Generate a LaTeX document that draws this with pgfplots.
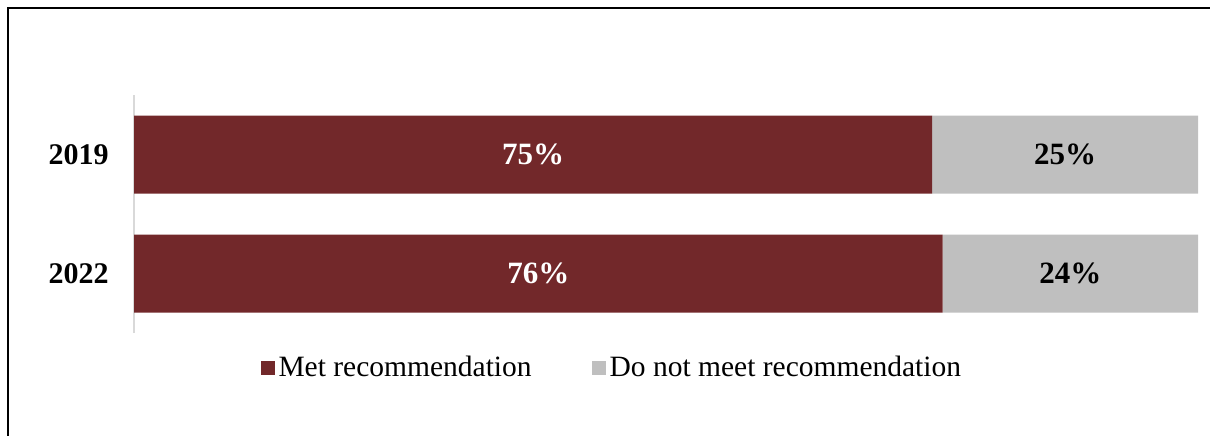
\documentclass[border=0pt]{standalone}
\usepackage{pgfplots}
\pgfplotsset{compat=1.18}
\usepackage{pgfplotstable}
\usepackage{fontspec}
\setmainfont{Liberation Serif}
\definecolor{metc}{RGB}{114,40,42}
\definecolor{notc}{RGB}{191,191,191}
\definecolor{axc}{RGB}{217,217,217}

\pgfplotstableread{
pos met notmet
1 75 25
0 76 24
}\data

\begin{document}
\begin{tikzpicture}[x=1pt,y=1pt]
\path[use as bounding box] (0,0) rectangle (605,217.5);
\draw[line width=1.3pt] (4,-2) -- (4,213.5) -- (607,213.5);
\begin{axis}[
 at={(67pt,51pt)}, anchor=south west,
 scale only axis, width=532pt, height=119pt,
 xbar stacked, bar width=39pt,
 xmin=0, xmax=100, ymin=-0.5, ymax=1.5,
 axis x line=none,
 axis y line=left, y axis line style={-, draw=axc, line width=1pt},
 ytick={0,1}, yticklabels={2022,2019},
 ytick style={draw=none},
 yticklabel style={font=\fontsize{15}{18}\selectfont\bfseries, xshift=-7pt},
 legend style={at={(0.450,-0.148)}, anchor=center, draw=none, fill=none,
   legend columns=2, font=\fontsize{14.75}{17}\selectfont,
   /tikz/every even column/.append style={column sep=28pt}},
 legend image code/.code={\fill[#1] (0pt,-3.5pt) rectangle (7pt,3.5pt);},
 point meta=explicit symbolic,
 nodes near coords={\pgfplotspointmeta\%},
 every node near coord/.append style={anchor=center,
    font=\fontsize{15.5}{18}\selectfont\bfseries},
]
\addplot[fill=metc, draw=none, every node near coord/.append style={text=white}]
  table[x=met, y=pos, meta=met]{\data};
\addlegendentry{Met recommendation}
\addplot[fill=notc, draw=none, every node near coord/.append style={text=black}]
  table[x=notmet, y=pos, meta=notmet]{\data};
\addlegendentry{Do not meet recommendation}
\end{axis}
\end{tikzpicture}
\end{document}
